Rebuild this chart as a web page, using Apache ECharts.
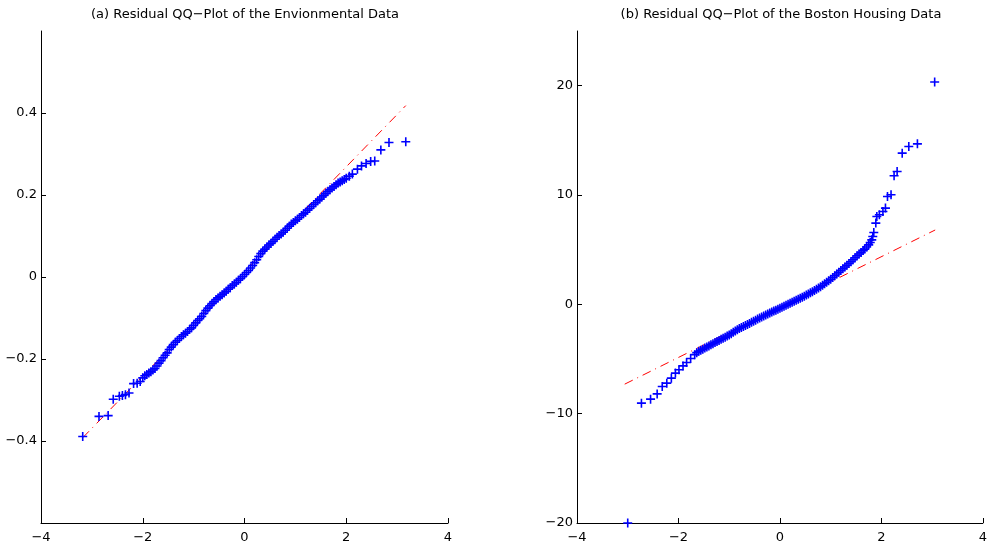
<!DOCTYPE html>
<html>
<head>
<meta charset="utf-8">
<script src="https://cdn.jsdelivr.net/npm/echarts@6/dist/echarts.min.js"></script>
<style>
  html, body { margin: 0; padding: 0; background: #fff; }
  #chart { width: 990px; height: 544px; }
</style>
</head>
<body>
<div id="chart"></div>
<script>
// (a) environmental data: normal quantiles vs sorted residuals
const envQuantiles = [
  -3.18, -2.86, -2.68, -2.58, -2.46, -2.40, -2.34, -2.27, -2.18, -2.11, -2.05,
  -2.00, -1.96, -1.92, -1.88, -1.84, -1.80, -1.76, -1.72, -1.68, -1.64,
  -1.60, -1.56, -1.52, -1.48, -1.44, -1.40, -1.36, -1.32, -1.28, -1.24,
  -1.20, -1.16, -1.12, -1.08, -1.04, -1.00, -0.96, -0.92, -0.88, -0.84,
  -0.80, -0.76, -0.72, -0.68, -0.64, -0.60, -0.56, -0.52, -0.48, -0.44,
  -0.40, -0.36, -0.32, -0.28, -0.24, -0.20, -0.16, -0.12, -0.08, -0.04,
  0.00, 0.04, 0.08, 0.12, 0.16, 0.20, 0.24, 0.28, 0.32, 0.36,
  0.40, 0.44, 0.48, 0.52, 0.56, 0.60, 0.64, 0.68, 0.72, 0.76,
  0.80, 0.84, 0.88, 0.92, 0.96, 1.00, 1.04, 1.08, 1.12, 1.16,
  1.20, 1.24, 1.28, 1.32, 1.36, 1.40, 1.44, 1.48, 1.52, 1.56,
  1.60, 1.64, 1.68, 1.72, 1.76, 1.80, 1.84, 1.88, 1.92, 1.96, 2.00,
  2.06, 2.12, 2.22, 2.30, 2.39, 2.48, 2.56, 2.68, 2.84, 3.17
];
const envResiduals = [
  -0.389, -0.340, -0.338, -0.298, -0.291, -0.289, -0.287, -0.283, -0.260, -0.259, -0.255,
  -0.246, -0.241, -0.238, -0.234, -0.231, -0.227, -0.223, -0.217, -0.210, -0.204,
  -0.197, -0.191, -0.185, -0.177, -0.171, -0.165, -0.159, -0.155, -0.150, -0.145,
  -0.141, -0.137, -0.133, -0.128, -0.124, -0.118, -0.112, -0.106, -0.102, -0.096,
  -0.089, -0.082, -0.076, -0.070, -0.065, -0.060, -0.055, -0.051, -0.047, -0.043,
  -0.039, -0.035, -0.030, -0.026, -0.021, -0.017, -0.013, -0.008, -0.004, 0.001,
  0.006, 0.011, 0.016, 0.022, 0.028, 0.035, 0.042, 0.050, 0.057, 0.063,
  0.068, 0.073, 0.078, 0.082, 0.087, 0.092, 0.097, 0.101, 0.105, 0.109,
  0.114, 0.119, 0.124, 0.129, 0.133, 0.137, 0.141, 0.145, 0.150, 0.154,
  0.158, 0.163, 0.167, 0.172, 0.177, 0.181, 0.186, 0.190, 0.195, 0.199,
  0.204, 0.209, 0.213, 0.217, 0.221, 0.225, 0.229, 0.232, 0.235, 0.238, 0.241,
  0.246, 0.251, 0.263, 0.271, 0.277, 0.282, 0.283, 0.310, 0.328, 0.330
];
const envLineX = [-3.18, 3.17];
const envLineY = [-0.392, 0.418];

// (b) boston housing data
const bostonQuantiles = [
  -3.00, -2.73, -2.55, -2.42, -2.32, -2.23, -2.14, -2.06, -1.99, -1.91, -1.84, -1.76, -1.68,
  -1.64, -1.60, -1.56, -1.52, -1.48, -1.44, -1.40, -1.36, -1.32, -1.28, -1.24,
  -1.20, -1.16, -1.12, -1.08, -1.04, -1.00, -0.96, -0.92, -0.88, -0.84,
  -0.80, -0.76, -0.72, -0.68, -0.64, -0.60, -0.56, -0.52, -0.48, -0.44,
  -0.40, -0.36, -0.32, -0.28, -0.24, -0.20, -0.16, -0.12, -0.08, -0.04,
  0.00, 0.04, 0.08, 0.12, 0.16, 0.20, 0.24, 0.28, 0.32, 0.36,
  0.40, 0.44, 0.48, 0.52, 0.56, 0.60, 0.64, 0.68, 0.72, 0.76,
  0.80, 0.84, 0.88, 0.92, 0.96, 1.00, 1.04, 1.08, 1.12, 1.16,
  1.20, 1.24, 1.28, 1.32, 1.36, 1.40, 1.44, 1.48, 1.52, 1.56,
  1.60, 1.64, 1.67, 1.71, 1.75, 1.78, 1.81, 1.83, 1.85, 1.89, 1.91, 1.96,
  2.03, 2.08, 2.12, 2.19, 2.25, 2.31, 2.41, 2.54, 2.71, 3.05
];
const bostonResiduals = [
  -20.0, -9.04, -8.67, -8.19, -7.52, -7.21, -6.75, -6.29, -5.99, -5.63, -5.32, -4.95, -4.60,
  -4.42, -4.30, -4.20, -4.10, -4.00, -3.90, -3.80, -3.70, -3.60, -3.50, -3.40,
  -3.30, -3.20, -3.10, -3.00, -2.90, -2.80, -2.68, -2.56, -2.44, -2.32,
  -2.20, -2.11, -2.02, -1.93, -1.84, -1.75, -1.65, -1.55, -1.45, -1.35,
  -1.25, -1.16, -1.07, -0.98, -0.89, -0.80, -0.71, -0.62, -0.53, -0.44,
  -0.35, -0.26, -0.17, -0.08, 0.01, 0.10, 0.19, 0.28, 0.37, 0.46,
  0.55, 0.65, 0.75, 0.85, 0.95, 1.05, 1.16, 1.27, 1.38, 1.49,
  1.60, 1.74, 1.88, 2.02, 2.16, 2.30, 2.46, 2.62, 2.78, 2.94,
  3.10, 3.26, 3.42, 3.58, 3.74, 3.90, 4.08, 4.26, 4.44, 4.60,
  4.75, 4.92, 5.05, 5.25, 5.44, 5.65, 5.90, 6.20, 6.57, 7.43, 8.03, 8.19,
  8.49, 8.80, 9.86, 10.02, 11.76, 12.15, 13.83, 14.44, 14.68, 20.33
];
const bostonLineX = [-3.06, 3.06];
const bostonLineY = [-7.3, 6.8];

const xTicks = [-4, -2, 0, 2, 4];
const envTicks = [-0.4, -0.2, 0, 0.2, 0.4];
const bostonTicks = [-20, -10, 0, 10, 20];

const titles = [
  '(a) Residual QQ\u2212Plot of the Envionmental Data',
  '(b) Residual QQ\u2212Plot of the Boston Housing Data'
];

const FONT = 'DejaVu Sans, Liberation Sans, Arial, sans-serif';
const fmt = (v) => (v < 0 ? '\u2212' + String(-v) : String(v));
const zip = (xs, ys) => xs.map((x, i) => [x, ys[i]]);
const plus = 'path://M5,0L5,10M0,5L10,5';

const xAxisOf = (gridIndex) => ({
  type: 'value', gridIndex, min: -4, max: 4, interval: 2,
  axisLine: { onZero: false, lineStyle: { color: '#000', width: 1 } },
  axisTick: { inside: true, length: 5, customValues: xTicks, lineStyle: { color: '#000' } },
  axisLabel: { customValues: xTicks, formatter: fmt, color: '#000', fontSize: 13, fontFamily: FONT, margin: 8 },
  splitLine: { show: false }
});

const yAxisOf = (gridIndex, min, max, ticks) => ({
  type: 'value', gridIndex, min, max,
  axisLine: { show: true, onZero: false, lineStyle: { color: '#000', width: 1 } },
  axisTick: { show: true, inside: true, length: 5, customValues: ticks, lineStyle: { color: '#000' } },
  axisLabel: { customValues: ticks, formatter: fmt, color: '#000', fontSize: 13, fontFamily: FONT, margin: 4 },
  splitLine: { show: false }
});

const scatterOf = (idx, xs, ys) => ({
  type: 'scatter', xAxisIndex: idx, yAxisIndex: idx, z: 3,
  data: zip(xs, ys),
  symbol: plus, symbolSize: 9,
  itemStyle: { color: 'none', borderColor: '#0000ff', borderWidth: 1.6, opacity: 1 },
  silent: true
});

const refLineOf = (idx, xs, ys) => ({
  type: 'line', xAxisIndex: idx, yAxisIndex: idx, z: 2,
  data: zip(xs, ys),
  showSymbol: false,
  lineStyle: { color: '#ff0000', width: 1, type: [9, 5, 1, 5] },
  silent: true
});

const titleOf = (text, x) => ({
  text, left: x, top: 8, padding: 0, textAlign: 'center',
  textStyle: { fontSize: 13, fontWeight: 'normal', color: '#000', fontFamily: FONT }
});

const chart = echarts.init(document.getElementById('chart'), null, { renderer: 'canvas' });
chart.setOption({
  animation: false,
  backgroundColor: '#fff',
  title: [titleOf(titles[0], 245), titleOf(titles[1], 781)],
  grid: [
    { left: 41, top: 31, width: 407, height: 492 },
    { left: 577, top: 31, width: 408, height: 492 }
  ],
  xAxis: [xAxisOf(0), xAxisOf(1)],
  yAxis: [
    yAxisOf(0, -0.6, 0.6, envTicks),
    yAxisOf(1, -20, 25, bostonTicks)
  ],
  series: [
    refLineOf(0, envLineX, envLineY),
    scatterOf(0, envQuantiles, envResiduals),
    refLineOf(1, bostonLineX, bostonLineY),
    scatterOf(1, bostonQuantiles, bostonResiduals)
  ]
});
</script>
</body>
</html>
